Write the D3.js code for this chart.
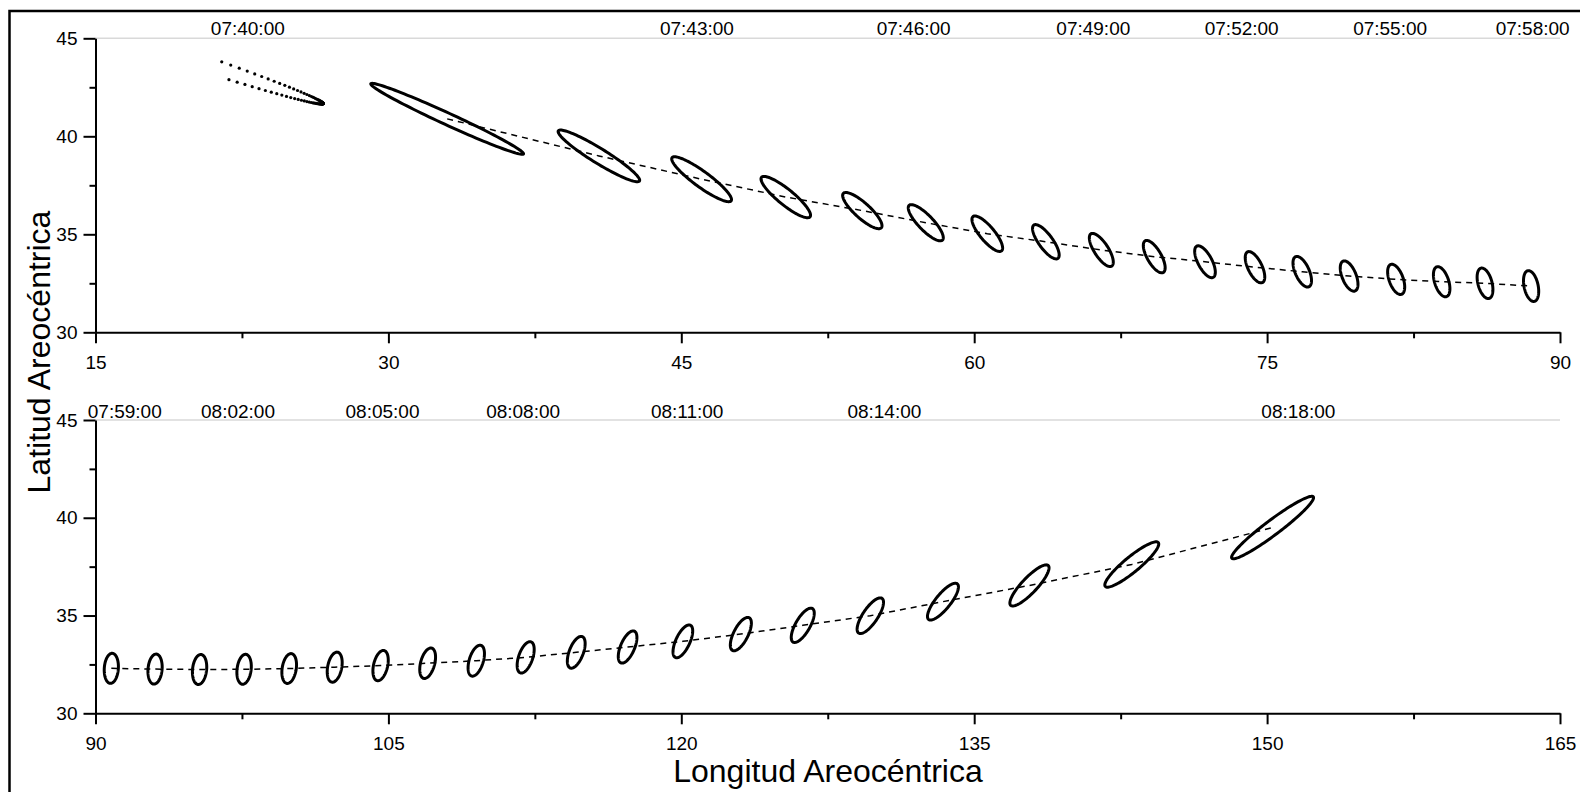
<!DOCTYPE html>
<html><head><meta charset="utf-8">
<script src="https://cdn.jsdelivr.net/npm/d3@7"></script>
<style>
body{margin:0;background:#fff;overflow:hidden}
svg{display:block}
text{font-family:"Liberation Sans",Arial,sans-serif;fill:#000}
</style>
</head><body>
<svg id="chart" width="1580" height="792"></svg>
<script>
// ---------------- DATA ----------------
// top panel (07:41 .. 07:58) ellipse centres and shapes
const topLon = [33.01,40.78,46.04,50.35,54.27,57.52,60.67,63.67,66.51,69.22,71.82,74.38,76.80,79.20,81.61,83.94,86.16,88.52];
const topLat = [40.89,39.00,37.81,36.90,36.21,35.59,35.03,34.62,34.20,33.86,33.60,33.32,33.09,32.87,32.70,32.58,32.50,32.36];
const topSemiMajor = [4.30,2.44,1.87,1.60,1.31,1.23,1.14,1.05,0.98,0.93,0.90,0.87,0.84,0.82,0.81,0.80,0.80,0.80];
const topSemiMinor = [0.30,0.38,0.40,0.40,0.39,0.38,0.37,0.36,0.36,0.36,0.36,0.36,0.36,0.36,0.36,0.36,0.36,0.36];
const topAngle = [24.6,31.6,36,39,42,46,50,54,57,60,62,64,66,68,70,72,75,78];

// first (07:40) ellipse, drawn as dots on its eastern part only
const firstLon = 16.65, firstLat = 45.0, firstSemiMajor = 10.54, firstSemiMinor = 0.43, firstAngle = 18.4;
const firstSpanLower = 58, firstSpanUpper = 62, firstDotsPerSide = 40;

// bottom panel (07:59 .. 08:18)
const botLon = [90.81,93.05,95.33,97.61,99.92,102.25,104.60,107.01,109.50,112.03,114.62,117.25,120.08,123.05,126.22,129.68,133.40,137.83,143.07,150.28];
const botLat = [32.30,32.26,32.24,32.25,32.29,32.36,32.44,32.56,32.69,32.86,33.12,33.39,33.68,34.05,34.50,34.99,35.71,36.54,37.61,39.50];
const botSemiMajor = [0.77,0.77,0.77,0.77,0.77,0.78,0.79,0.80,0.82,0.84,0.86,0.88,0.91,0.94,0.99,1.07,1.17,1.40,1.76,2.61];
const botSemiMinor = [0.36,0.36,0.36,0.36,0.36,0.36,0.36,0.36,0.36,0.36,0.36,0.36,0.36,0.37,0.37,0.38,0.38,0.39,0.39,0.38];
const botAngle = [-86,-85,-84,-83,-81,-79,-77,-75,-73,-71,-69,-67,-65,-63,-60,-56,-51,-46.6,-39.5,-36.9];

// time labels
const topTimes = ["07:40:00","07:43:00","07:46:00","07:49:00","07:52:00","07:55:00","07:58:00"];
const topTimeLon = [22.8,45.8,56.9,66.1,73.7,81.3,88.6];
const botTimes = ["07:59:00","08:02:00","08:05:00","08:08:00","08:11:00","08:14:00","08:18:00"];
const botTimeLon = [91.5,97.3,104.7,111.9,120.3,130.4,151.6];

// axes
const topXTicks = [15,30,45,60,75,90];
const topXMinor = [22.5,37.5,52.5,67.5,82.5];
const botXTicks = [90,105,120,135,150,165];
const botXMinor = [97.5,112.5,127.5,142.5,157.5];
const yTicks = [30,35,40,45];
const yMinor = [32.5,37.5,42.5];
const xTitle = "Longitud Areocéntrica";
const yTitle = "Latitud Areocéntrica";

// ---------------- DRAW ----------------
const svg = d3.select("#chart");
svg.append("rect").attr("x",9.5).attr("y",11).attr("width",1700).attr("height",900)
   .attr("fill","none").attr("stroke","#000").attr("stroke-width",2.5);

function ellipsePoint(cx, cy, a, b, angDeg, t){
  const phi = angDeg*Math.PI/180;
  const ux = Math.cos(phi), uy = -Math.sin(phi);   // major axis direction in data space
  const vx = Math.sin(phi), vy = Math.cos(phi);
  return [cx + a*Math.cos(t)*ux + b*Math.sin(t)*vx, cy + a*Math.cos(t)*uy + b*Math.sin(t)*vy];
}

function panel(cfg){
  const x = d3.scaleLinear().domain(cfg.xDomain).range([95.5,1560]);
  const y = d3.scaleLinear().domain([30,45]).range([cfg.bottom, cfg.top]);
  const g = svg.append("g");

  g.append("line").attr("x1",x(cfg.xDomain[0])).attr("x2",x(cfg.xDomain[1]))
    .attr("y1",y(45)).attr("y2",y(45)).attr("stroke","#d9d9d9").attr("stroke-width",1.5);

  g.append("g").attr("transform",`translate(0,${y(30)})`)
    .call(d3.axisBottom(x).tickValues(cfg.xTicks).tickSize(11).tickSizeOuter(0).tickPadding(12));
  g.append("g").attr("transform",`translate(0,${y(30)})`)
    .call(d3.axisBottom(x).tickValues(cfg.xMinor).tickSize(6).tickSizeOuter(0).tickFormat(""))
    .select(".domain").remove();
  g.append("g").attr("transform",`translate(${x(cfg.xDomain[0])},0)`)
    .call(d3.axisLeft(y).tickValues(yTicks).tickSize(12).tickSizeOuter(0).tickPadding(6));
  g.append("g").attr("transform",`translate(${x(cfg.xDomain[0])},0)`)
    .call(d3.axisLeft(y).tickValues(yMinor).tickSize(6).tickSizeOuter(0).tickFormat(""))
    .select(".domain").remove();
  g.selectAll(".domain").attr("stroke","#000").attr("stroke-width",2);
  g.selectAll(".tick line").attr("stroke","#000").attr("stroke-width",2);
  g.selectAll(".tick text").attr("font-size",19).attr("font-family","Liberation Sans, Arial, sans-serif").attr("fill","#000");

  const line = d3.line().x(d=>x(d[0])).y(d=>y(d[1]));
  const track = cfg.lon.map((v,i)=>[v,cfg.lat[i]]);
  g.append("path").attr("d",line(track)).attr("fill","none").attr("stroke","#000")
    .attr("stroke-width",1.5).attr("stroke-dasharray","6,5");

  const closed = d3.line().x(d=>x(d[0])).y(d=>y(d[1])).curve(d3.curveLinearClosed);
  cfg.lon.forEach((v,i)=>{
    const pts = d3.range(120).map(k=>ellipsePoint(v,cfg.lat[i],cfg.a[i],cfg.b[i],cfg.ang[i],2*Math.PI*k/120));
    g.append("path").attr("d",closed(pts)).attr("fill","none").attr("stroke","#000").attr("stroke-width",3);
  });

  cfg.times.forEach((t,i)=>{
    g.append("text").attr("x",x(cfg.timeLon[i])).attr("y",cfg.labelY)
      .attr("text-anchor","middle").attr("font-size",19).text(t);
  });
  return {x,y,g};
}

const P1 = panel({xDomain:[15,90], top:38.3, bottom:332.3, xTicks:topXTicks, xMinor:topXMinor,
  lon:topLon, lat:topLat, a:topSemiMajor, b:topSemiMinor, ang:topAngle,
  times:topTimes, timeLon:topTimeLon, labelY:35});
const P2 = panel({xDomain:[90,165], top:420, bottom:713.3, xTicks:botXTicks, xMinor:botXMinor,
  lon:botLon, lat:botLat, a:botSemiMajor, b:botSemiMinor, ang:botAngle,
  times:botTimes, timeLon:botTimeLon, labelY:418});

// dotted first ellipse: samples packed towards the eastern tip
const dots = [];
for (let k=firstDotsPerSide;k>=1;k--){
  const f = (k/firstDotsPerSide)**2;
  dots.push(ellipsePoint(firstLon,firstLat,firstSemiMajor,firstSemiMinor,firstAngle,-f*firstSpanLower*Math.PI/180));
}
dots.push(ellipsePoint(firstLon,firstLat,firstSemiMajor,firstSemiMinor,firstAngle,0));
for (let k=1;k<=firstDotsPerSide;k++){
  const f = (k/firstDotsPerSide)**2;
  dots.push(ellipsePoint(firstLon,firstLat,firstSemiMajor,firstSemiMinor,firstAngle,f*firstSpanUpper*Math.PI/180));
}
P1.g.selectAll("circle.first").data(dots).enter().append("circle")
  .attr("cx",d=>P1.x(d[0])).attr("cy",d=>P1.y(d[1])).attr("r",1.6).attr("fill","#000");

svg.append("text").attr("x",828).attr("y",782).attr("text-anchor","middle").attr("font-size",32).text(xTitle);
svg.append("text").attr("transform","translate(50,352) rotate(-90)").attr("text-anchor","middle").attr("font-size",32).text(yTitle);
</script>
</body></html>
